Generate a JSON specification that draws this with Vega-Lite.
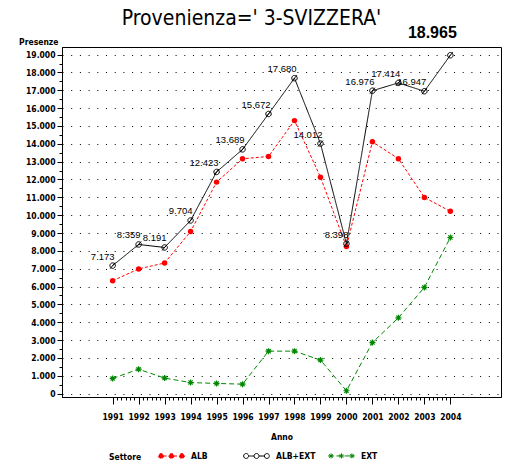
{
  "$schema": "https://vega.github.io/schema/vega-lite/v6.json",
  "autosize": "none",
  "width": 439,
  "height": 350,
  "padding": {"left": 62, "top": 47, "right": 6, "bottom": 68},
  "background": "white",
  "title": {
    "text": "Provenienza=' 3-SVIZZERA'",
    "font": "DejaVu Sans Condensed",
    "fontSize": 21,
    "fontWeight": "normal",
    "color": "black",
    "anchor": "middle",
    "offset": -4,
    "dx": -30
  },
  "data": {
    "values": [
      {"Anno": 1991, "Settore": "ALB", "Presenze": 6323},
      {"Anno": 1992, "Settore": "ALB", "Presenze": 6990},
      {"Anno": 1993, "Settore": "ALB", "Presenze": 7321},
      {"Anno": 1994, "Settore": "ALB", "Presenze": 9084},
      {"Anno": 1995, "Settore": "ALB", "Presenze": 11853},
      {"Anno": 1996, "Settore": "ALB", "Presenze": 13159},
      {"Anno": 1997, "Settore": "ALB", "Presenze": 13292},
      {"Anno": 1998, "Settore": "ALB", "Presenze": 15300},
      {"Anno": 1999, "Settore": "ALB", "Presenze": 12132},
      {"Anno": 2000, "Settore": "ALB", "Presenze": 8238},
      {"Anno": 2001, "Settore": "ALB", "Presenze": 14116},
      {"Anno": 2002, "Settore": "ALB", "Presenze": 13164},
      {"Anno": 2003, "Settore": "ALB", "Presenze": 10997},
      {"Anno": 2004, "Settore": "ALB", "Presenze": 10215},
      {"Anno": 1991, "Settore": "ALB+EXT", "Presenze": 7173},
      {"Anno": 1992, "Settore": "ALB+EXT", "Presenze": 8359},
      {"Anno": 1993, "Settore": "ALB+EXT", "Presenze": 8191},
      {"Anno": 1994, "Settore": "ALB+EXT", "Presenze": 9704},
      {"Anno": 1995, "Settore": "ALB+EXT", "Presenze": 12423},
      {"Anno": 1996, "Settore": "ALB+EXT", "Presenze": 13689},
      {"Anno": 1997, "Settore": "ALB+EXT", "Presenze": 15672},
      {"Anno": 1998, "Settore": "ALB+EXT", "Presenze": 17680},
      {"Anno": 1999, "Settore": "ALB+EXT", "Presenze": 14012},
      {"Anno": 2000, "Settore": "ALB+EXT", "Presenze": 8398},
      {"Anno": 2001, "Settore": "ALB+EXT", "Presenze": 16976},
      {"Anno": 2002, "Settore": "ALB+EXT", "Presenze": 17414},
      {"Anno": 2003, "Settore": "ALB+EXT", "Presenze": 16947},
      {"Anno": 2004, "Settore": "ALB+EXT", "Presenze": 18965},
      {"Anno": 1991, "Settore": "EXT", "Presenze": 850},
      {"Anno": 1992, "Settore": "EXT", "Presenze": 1369},
      {"Anno": 1993, "Settore": "EXT", "Presenze": 870},
      {"Anno": 1994, "Settore": "EXT", "Presenze": 620},
      {"Anno": 1995, "Settore": "EXT", "Presenze": 570},
      {"Anno": 1996, "Settore": "EXT", "Presenze": 530},
      {"Anno": 1997, "Settore": "EXT", "Presenze": 2380},
      {"Anno": 1998, "Settore": "EXT", "Presenze": 2380},
      {"Anno": 1999, "Settore": "EXT", "Presenze": 1880},
      {"Anno": 2000, "Settore": "EXT", "Presenze": 160},
      {"Anno": 2001, "Settore": "EXT", "Presenze": 2860},
      {"Anno": 2002, "Settore": "EXT", "Presenze": 4250},
      {"Anno": 2003, "Settore": "EXT", "Presenze": 5950},
      {"Anno": 2004, "Settore": "EXT", "Presenze": 8750}
    ]
  },
  "layer": [
    {
      "mark": {"type": "line", "strokeWidth": 1},
      "encoding": {
        "x": {
          "field": "Anno", "type": "quantitative",
          "scale": {"domain": [1989.05, 2005.95], "nice": false, "zero": false},
          "axis": {
            "orient": "bottom",
            "values": [1991, 1992, 1993, 1994, 1995, 1996, 1997, 1998, 1999, 2000, 2001, 2002, 2003, 2004],
            "format": "d",
            "title": "Anno",
            "grid": false,
            "tickSize": 7,
            "labelPadding": 8,
            "titlePadding": 12,
            "labelFlush": false
          }
        },
        "y": {
          "field": "Presenze", "type": "quantitative",
          "scale": {"domain": [-190, 19426], "nice": false, "zero": false},
          "axis": {
            "orient": "left",
            "values": [0, 1000, 2000, 3000, 4000, 5000, 6000, 7000, 8000, 9000, 10000, 11000, 12000, 13000, 14000, 15000, 16000, 17000, 18000, 19000],
            "format": ",d",
            "title": "Presenze",
            "titleAngle": 0,
            "titleAlign": "right",
            "titleBaseline": "bottom",
            "titleX": -4,
            "titleY": -1,
            "grid": true,
            "gridColor": "black",
            "gridOpacity": 1,
            "gridDash": [1, 7.7],
            "gridWidth": 1,
            "tickSize": 5,
            "labelPadding": 2
          }
        },
        "color": {
          "field": "Settore", "type": "nominal",
          "scale": {"domain": ["ALB", "ALB+EXT", "EXT"], "range": ["#ff0000", "#000000", "#008800"]},
          "legend": {
            "orient": "none",
            "legendX": 47,
            "legendY": 395,
            "direction": "horizontal",
            "columns": 3,
            "gridAlign": "all",
            "columnPadding": 10,
            "title": "Settore",
            "titleOrient": "left",
            "titlePadding": 16,
            "titleBaseline": "middle",
            "symbolSize": 676,
            "labelOffset": 6,
            "encode": {
              "title": {
                "update": {
                  "dy": {"value": 6}
                }
              },
              "symbols": {
                "update": {
                  "shape": {"signal": "datum.value === 'EXT' ? 'M-1,0L1,0M-1,0L-0.6,0M-0.8,-0.2L-0.8,0.2M-0.94,-0.14L-0.66,0.14M-0.94,0.14L-0.66,-0.14M-0.2,0L0.2,0M0,-0.2L0,0.2M-0.14,-0.14L0.14,0.14M-0.14,0.14L0.14,-0.14M0.6,0L1,0M0.8,-0.2L0.8,0.2M0.66,-0.14L0.94,0.14M0.66,0.14L0.94,-0.14' : 'M-0.61,0L-0.19,0M0.19,0L0.61,0M-0.99,0A0.19,0.19 0 1,0 -0.61,0A0.19,0.19 0 1,0 -0.99,0ZM-0.19,0A0.19,0.19 0 1,0 0.19,0A0.19,0.19 0 1,0 -0.19,0ZM0.61,0A0.19,0.19 0 1,0 0.99,0A0.19,0.19 0 1,0 0.61,0Z'"},
                  "fill": {"signal": "datum.value === 'ALB' ? '#ff0000' : 'transparent'"},
                  "stroke": {"signal": "datum.value === 'ALB' ? '#ff0000' : datum.value === 'ALB+EXT' ? '#000000' : '#008800'"},
                  "strokeWidth": {"value": 1},
                  "strokeDash": {"value": [1, 0]},
                  "opacity": {"value": 1},
                  "size": {"value": 676}
                }
              }
            }
          }
        },
        "strokeDash": {
          "field": "Settore", "type": "nominal",
          "scale": {"domain": ["ALB", "ALB+EXT", "EXT"], "range": [[3, 2], [1, 0], [5, 3]]},
          "legend": null
        }
      }
    },
    {
      "transform": [{"filter": "datum.Settore === 'ALB'"}],
      "mark": {"type": "point", "shape": "circle", "filled": true, "opacity": 1, "size": 30, "color": "#ff0000"},
      "encoding": {
        "x": {"field": "Anno", "type": "quantitative", "axis": null},
        "y": {"field": "Presenze", "type": "quantitative", "axis": null}
      }
    },
    {
      "transform": [{"filter": "datum.Settore === 'ALB+EXT'"}],
      "mark": {"type": "point", "shape": "M-1,0A1,1 0 1,1 1,0A1,1 0 1,1 -1,0ZM-0.9,1.1L0.9,-1.1", "filled": false, "strokeWidth": 1, "opacity": 1, "size": 30, "color": "#000000"},
      "encoding": {
        "x": {"field": "Anno", "type": "quantitative", "axis": null},
        "y": {"field": "Presenze", "type": "quantitative", "axis": null}
      }
    },
    {
      "transform": [{"filter": "datum.Settore === 'EXT'"}],
      "mark": {"type": "point", "shape": "M-1,0L1,0M0,-1L0,1M-0.7,-0.7L0.7,0.7M-0.7,0.7L0.7,-0.7", "filled": false, "strokeWidth": 1.2, "opacity": 1, "size": 36, "color": "#008800"},
      "encoding": {
        "x": {"field": "Anno", "type": "quantitative", "axis": null},
        "y": {"field": "Presenze", "type": "quantitative", "axis": null}
      }
    },
    {
      "transform": [{"filter": "datum.Settore === 'ALB+EXT' && datum.Anno < 2004"}],
      "mark": {"type": "text", "align": "right", "baseline": "alphabetic", "dx": 2, "dy": -6, "font": "Liberation Sans", "fontSize": 9.5, "color": "black"},
      "encoding": {
        "x": {"field": "Anno", "type": "quantitative", "axis": null},
        "y": {"field": "Presenze", "type": "quantitative", "axis": null},
        "text": {"field": "Presenze", "type": "quantitative", "format": ",d"}
      }
    },
    {
      "transform": [{"filter": "datum.Settore === 'ALB+EXT' && datum.Anno === 2004"}],
      "mark": {"type": "text", "align": "center", "baseline": "alphabetic", "dx": -18, "dy": -17, "font": "Liberation Sans", "fontSize": 16, "fontWeight": "bold", "color": "black"},
      "encoding": {
        "x": {"field": "Anno", "type": "quantitative", "axis": null},
        "y": {"field": "Presenze", "type": "quantitative", "axis": null},
        "text": {"field": "Presenze", "type": "quantitative", "format": ",d"}
      }
    },
    {
      "mark": {"type": "point", "opacity": 0},
      "encoding": {
        "x": {
          "field": "Anno", "type": "quantitative",
          "axis": {
            "orient": "bottom", "labels": false, "domain": false, "grid": false, "title": null, "tickSize": 3,
            "values": [1991.167, 1991.333, 1991.5, 1991.667, 1991.833, 1992.167, 1992.333, 1992.5, 1992.667, 1992.833, 1993.167, 1993.333, 1993.5, 1993.667, 1993.833, 1994.167, 1994.333, 1994.5, 1994.667, 1994.833, 1995.167, 1995.333, 1995.5, 1995.667, 1995.833, 1996.167, 1996.333, 1996.5, 1996.667, 1996.833, 1997.167, 1997.333, 1997.5, 1997.667, 1997.833, 1998.167, 1998.333, 1998.5, 1998.667, 1998.833, 1999.167, 1999.333, 1999.5, 1999.667, 1999.833, 2000.167, 2000.333, 2000.5, 2000.667, 2000.833, 2001.167, 2001.333, 2001.5, 2001.667, 2001.833, 2002.167, 2002.333, 2002.5, 2002.667, 2002.833, 2003.167, 2003.333, 2003.5, 2003.667, 2003.833]
          }
        },
        "y": {
          "field": "Presenze", "type": "quantitative",
          "axis": {
            "orient": "left", "labels": false, "domain": false, "grid": false, "title": null, "tickSize": 3,
            "values": [500, 1500, 2500, 3500, 4500, 5500, 6500, 7500, 8500, 9500, 10500, 11500, 12500, 13500, 14500, 15500, 16500, 17500, 18500]
          }
        }
      }
    }
  ],
  "resolve": {"axis": {"x": "independent", "y": "independent"}},
  "config": {
    "locale": {"number": {"decimal": ",", "thousands": ".", "grouping": [3], "currency": ["€", ""]}},
    "view": {"stroke": "black", "strokeWidth": 1},
    "axis": {
      "domainColor": "black",
      "tickColor": "black",
      "labelColor": "black",
      "titleColor": "black",
      "labelFont": "DejaVu Sans Condensed",
      "labelFontSize": 8.5,
      "labelFontWeight": "bold",
      "titleFont": "DejaVu Sans Condensed",
      "titleFontSize": 8.5,
      "titleFontWeight": "bold"
    },
    "legend": {
      "labelFont": "DejaVu Sans Condensed",
      "labelFontSize": 8.5,
      "labelFontWeight": "bold",
      "labelColor": "black",
      "titleFont": "DejaVu Sans Condensed",
      "titleFontSize": 8.5,
      "titleFontWeight": "bold",
      "titleColor": "black"
    }
  }
}
